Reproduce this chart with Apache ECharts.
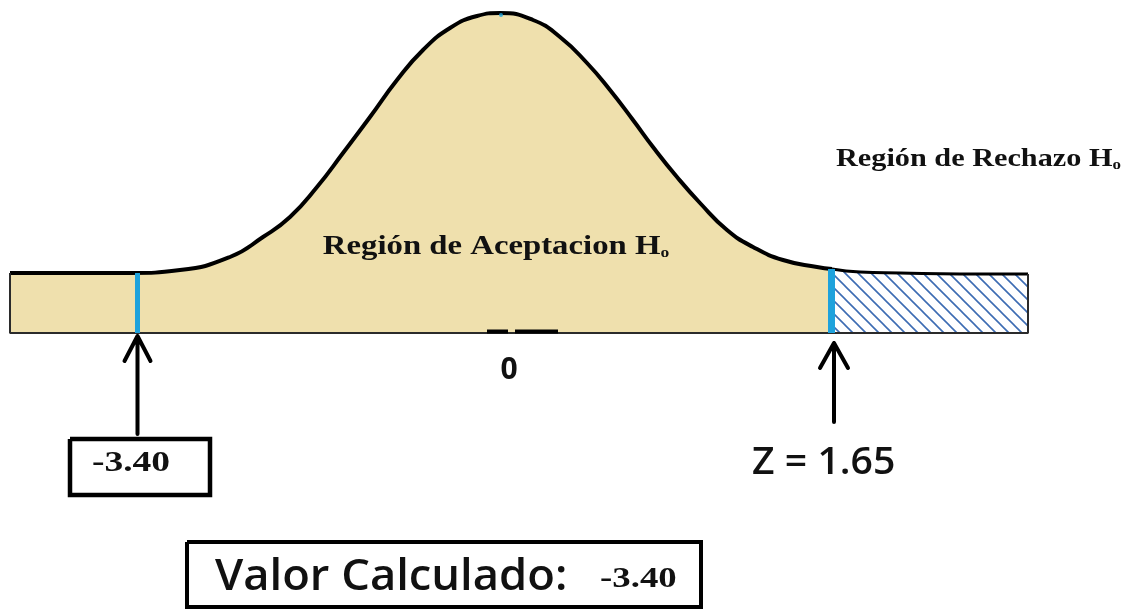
<!DOCTYPE html>
<html>
<head>
<meta charset="utf-8">
<script src="https://cdn.jsdelivr.net/npm/echarts@6/dist/echarts.min.js"></script>
<style>html,body{margin:0;padding:0;background:#fff}#c{width:1130px;height:611px}</style>
</head>
<body>
<div id="c"></div>
<script>
// ---- data (schematic units: x = position along the z axis sketch, y = curve height) ----
const curveX = [-4.93,-4.43,-4.03,-3.73,-3.23,-2.73,-2.40,-2.13,-1.86,-1.60,-1.33,-1.06,-0.80,-0.53,-0.26,-0.03,0.30,0.57,0.84,1.07,1.30,1.50,1.74,1.97,2.24,2.50,2.80,3.14,3.29];
const curveY = [6.0,6.0,6.0,6.0,6.3,7.6,9.6,11.6,14.6,18.0,21.6,25.3,28.3,30.5,31.7,32.0,31.3,29.6,27.0,24.3,21.3,18.6,15.6,13.0,10.3,8.6,7.3,6.6,6.4];
const tailX = [3.29,3.57,3.97,4.57,5.25];
const tailY = [6.4,6.1,6.0,5.9,5.9];
const calcValue = -3.40;      // valor calculado
const criticalZ = 1.65;       // valor crítico
const calcPos = -3.66;        // sketch position of calculated value
const critPos = 3.30;         // sketch position of critical value
const centerLabel = '0';

const zip = (a, b) => a.map((v, i) => [v, b[i]]);
const TAN = '#EFE0AD', BLUE = '#1EA2DC', HATCH = '#3D6CB3';

// hatch pattern tile
function hatchTile() {
  const s = 13, c = document.createElement('canvas');
  c.width = s; c.height = s;
  const g = c.getContext('2d');
  g.fillStyle = '#fff'; g.fillRect(0, 0, s, s);
  g.strokeStyle = HATCH; g.lineWidth = 1.6;
  g.beginPath();
  g.moveTo(-2, -2); g.lineTo(s + 2, s + 2);
  g.moveTo(-2, s - 2); g.lineTo(2, s + 2);
  g.moveTo(s - 2, -2); g.lineTo(s + 2, 2);
  g.stroke();
  return c;
}

const xL = curveX[0], xR = tailX[tailX.length - 1];
const outline = [[xL, curveY[0]], [xL, 0], [xR, 0], [xR, tailY[tailY.length - 1]]];
function arrow(x, tip, wingY, bottom, w) {
  return [[x - w, wingY], [x, tip], [x + w, wingY], [x, tip], [x, bottom]];
}
function rect(x0, x1, y0, y1) {
  return [[x0, y0], [x1, y0], [x1, y1], [x0, y1], [x0, y0]];
}

const chart = echarts.init(document.getElementById('c'), null, {renderer: 'canvas'});
const lineBase = {type: 'line', symbol: 'none', silent: true, animation: false, z: 3};
chart.setOption({
  animation: false,
  grid: {left: 0, right: 0, top: 0, bottom: 0},
  xAxis: {type: 'value', min: -5.03, max: 6.27, show: false},
  yAxis: {type: 'value', min: -27.8, max: 33.3, show: false},
  series: [
    Object.assign({}, lineBase, {
      name: 'aceptacion', data: zip(curveX, curveY), smooth: 0.5,
      lineStyle: {color: '#000', width: 4}, areaStyle: {color: TAN, opacity: 1, origin: 'auto'},
      markLine: {silent: true, symbol: 'none', label: {show: false}, animation: false,
        data: [
          [{coord: [calcPos, 0], lineStyle: {color: BLUE, width: 5, type: 'solid'}}, {coord: [calcPos, 6.0]}],
          [{coord: [critPos - 0.02, 0], lineStyle: {color: BLUE, width: 7, type: 'solid'}}, {coord: [critPos - 0.02, 6.4]}]
        ]}
    }),
    Object.assign({}, lineBase, {
      name: 'rechazo', data: zip(tailX, tailY), smooth: 0.5,
      lineStyle: {color: '#000', width: 3}, z: 2,
      areaStyle: {color: {image: hatchTile(), repeat: 'repeat'}, opacity: 1, origin: 'auto'}
    }),
    Object.assign({}, lineBase, {name: 'borde', data: outline, lineStyle: {color: '#2b2b2b', width: 2}, z: 4}),
    Object.assign({}, lineBase, {name: 'marca0a', data: [[-0.16, 0.15], [0.05, 0.15]], lineStyle: {color: '#000', width: 4}, z: 4}),
    Object.assign({}, lineBase, {name: 'marca0b', data: [[0.12, 0.15], [0.55, 0.15]], lineStyle: {color: '#000', width: 4}, z: 4}),
    Object.assign({}, lineBase, {name: 'flechaCalc', data: arrow(calcPos + 0.005, -0.3, -2.8, -10.1, 0.13), lineStyle: {color: '#000', width: 4, cap: 'round', join: 'round'}}),
    Object.assign({}, lineBase, {name: 'flechaCrit', data: arrow(critPos + 0.01, -1.0, -3.5, -8.9, 0.14), lineStyle: {color: '#000', width: 4, cap: 'round', join: 'round'}}),
    Object.assign({}, lineBase, {name: 'cajaCalc', data: rect(-4.33, -2.93, -10.6, -16.2), lineStyle: {color: '#000', width: 4.5, join: 'miter'}}),
    Object.assign({}, lineBase, {name: 'cajaValor', data: rect(-3.16, 1.98, -20.9, -27.4), lineStyle: {color: '#000', width: 4, join: 'miter'}}),
    {type: 'scatter', silent: true, animation: false, data: [[-0.02, 31.8]], symbolSize: 4, itemStyle: {color: BLUE}, z: 5}
  ]
});

// ---- text annotations positioned through the axes ----
const P = (x, y) => chart.convertToPixel({xAxisIndex: 0, yAxisIndex: 0}, [x, y]);
const SERIF = '"Liberation Serif", "Times New Roman", serif';
const SANS = '"Open Sans", "Noto Sans", sans-serif';
function txt(pos, text, opt) {
  const p = P(pos[0], pos[1]);
  return {
    type: 'text', x: p[0], y: p[1], scaleX: opt.sx || 1, z: 10, silent: true,
    style: Object.assign({
      text: text, fill: '#111', align: opt.align || 'left', verticalAlign: 'middle',
      fontFamily: opt.family, fontSize: opt.size, fontWeight: opt.weight || 'normal'
    }, opt.rich ? {rich: opt.rich} : {})
  };
}
function hRich(size) {
  return {
    m: {fontFamily: SERIF, fontSize: size, fontWeight: 'bold', fill: '#111'},
    s: {fontFamily: SERIF, fontSize: Math.round(size * 0.55), fontWeight: 'bold', fill: '#111', verticalAlign: 'bottom'}
  };
}
chart.setOption({
  graphic: [
    txt([-0.07, 8.6], '{m|Región de Aceptacion H}{s|o}', {align: 'center', family: SERIF, size: 28, weight: 'bold', sx: 1.17, rich: hRich(28)}),
    txt([3.33, 17.3], '{m|Región de Rechazo H}{s|o}', {family: SERIF, size: 25, weight: 'bold', sx: 1.21, rich: hRich(25)}),
    txt([0.06, -3.7], centerLabel, {align: 'center', family: SANS, size: 30, weight: 'bold'}),
    txt([2.49, -13.0], 'Z = ' + criticalZ.toFixed(2), {family: SANS, size: 37, weight: 600, sx: 1.06}),
    txt([-4.11, -13.0], calcValue.toFixed(2), {family: SERIF, size: 30, weight: 'bold', sx: 1.25}),
    txt([-2.88, -24.4], 'Valor Calculado:', {family: SANS, size: 44, weight: 600, sx: 1.03}),
    txt([0.97, -24.7], calcValue.toFixed(2), {family: SERIF, size: 29, weight: 'bold', sx: 1.27})
  ]
});
</script>
</body>
</html>
